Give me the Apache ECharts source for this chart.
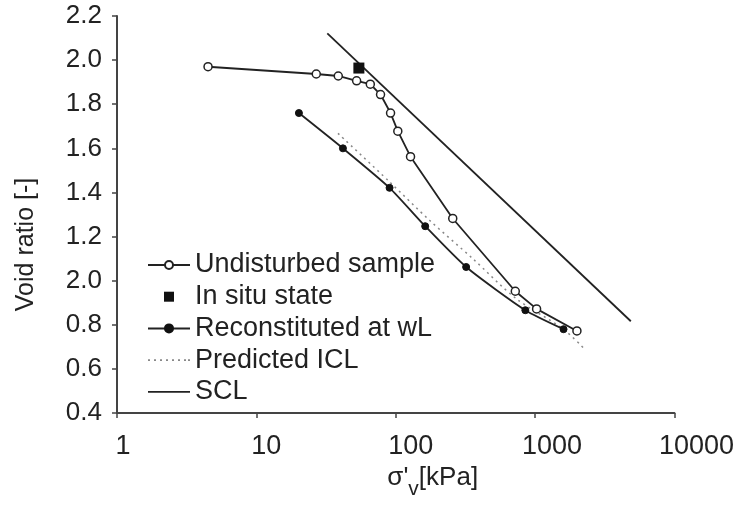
<!DOCTYPE html>
<html>
<head>
<meta charset="utf-8">
<script src="https://cdn.jsdelivr.net/npm/echarts@6/dist/echarts.min.js"></script>
<style>
  html, body { margin: 0; padding: 0; background: #fff; }
  #chart { width: 737px; height: 512px; }
</style>
</head>
<body>
<div id="chart"></div>
<script>
// [stress kPa, void ratio]
var undisturbed = [
  [4.5, 1.970], [26.9, 1.937], [38.7, 1.928], [52.4, 1.906], [65.7, 1.891],
  [77.8, 1.844], [91.8, 1.760], [103.5, 1.678], [127.7, 1.562], [256.5, 1.282],
  [721, 0.952], [1025, 0.872], [1996, 0.772]
];
var inSitu = [[54.4, 1.964]];
var reconstituted = [
  [20.2, 1.760], [41.8, 1.600], [90.3, 1.421], [162.7, 1.247],
  [320, 1.062], [851, 0.866], [1600, 0.780]
];
var predictedICL = [
  [38.5, 1.668], [90.3, 1.448], [174.6, 1.274], [356.6, 1.100],
  [730, 0.919], [1574, 0.783], [2250, 0.692]
];
var scl = [[32.3, 2.121], [4864, 0.816]];

// tick labels as printed (the 1.0 tick is labelled 2.0 in the original)
var yTickLabels = ["0.4", "0.6", "0.8", "2.0", "1.2", "1.4", "1.6", "1.8", "2.0", "2.2"];
var xTickLabels = ["1", "10", "100", "1000", "10000"];

var font = "Liberation Sans, Arial, Helvetica, sans-serif";
var ink = "#222";
var axisColor = "#444";

// legend icons drawn as paths so they keep their aspect
var squareIcon = "path://M0,0L10,0L10,10L0,10Z";
var solidIcon = "path://M0,0L42,0L42,1.8L0,1.8Z";
var dottedIcon = "path://M0,0h2v1.6h-2zM6,0h2v1.6h-2zM12,0h2v1.6h-2zM18,0h2v1.6h-2zM24,0h2v1.6h-2zM30,0h2v1.6h-2zM36,0h2v1.6h-2zM40,0h2v1.6h-2z";

var chart = echarts.init(document.getElementById("chart"));
chart.setOption({
  animation: false,
  backgroundColor: "#fff",
  grid: { left: 117, right: 62, top: 16, bottom: 99 },
  legend: {
    orient: "vertical",
    left: 142,
    top: 246,
    itemWidth: 42,
    itemHeight: 10,
    itemGap: 3.7,
    textStyle: { fontFamily: font, fontSize: 27, lineHeight: 28, color: ink },
    data: [
      { name: "Undisturbed sample" },
      { name: "In situ state", icon: squareIcon, itemStyle: { color: "#111", opacity: 1 } },
      { name: "Reconstituted at wL" },
      { name: "Predicted ICL", icon: dottedIcon },
      { name: "SCL", icon: solidIcon }
    ]
  },
  xAxis: {
    type: "log",
    logBase: 10,
    min: 1,
    max: 10000,
    name: "{m|σ}{m|'}{s|v}{m|[kPa]}",
    nameLocation: "middle",
    nameGap: 48,
    nameTextStyle: {
      padding: [0, 0, 0, 74],
      rich: {
        m: { fontFamily: font, fontSize: 26, color: ink, lineHeight: 30, verticalAlign: "top" },
        s: { fontFamily: font, fontSize: 21, color: ink, padding: [14, 0, 0, 0], verticalAlign: "top" }
      }
    },
    axisLine: { show: true, lineStyle: { color: axisColor, width: 2 } },
    axisTick: { show: true, inside: false, length: 5, lineStyle: { color: axisColor, width: 1.5 } },
    splitLine: { show: false },
    minorTick: { show: false },
    axisLabel: {
      margin: 20,
      color: ink,
      fontFamily: font,
      fontSize: 27,
      formatter: function (v) {
        var k = Math.round(Math.log(v) / Math.LN10);
        return "{o" + k + "|" + xTickLabels[k] + "}";
      },
      rich: {
        o0: { fontFamily: font, fontSize: 27, color: ink, padding: [0, 0, 0, 12] },
        o1: { fontFamily: font, fontSize: 27, color: ink, padding: [0, 0, 0, 20] },
        o2: { fontFamily: font, fontSize: 27, color: ink, padding: [0, 0, 0, 30] },
        o3: { fontFamily: font, fontSize: 27, color: ink, padding: [0, 0, 0, 34] },
        o4: { fontFamily: font, fontSize: 27, color: ink, padding: [0, 0, 0, 44] }
      }
    }
  },
  yAxis: {
    type: "value",
    min: 0.4,
    max: 2.2,
    interval: 0.2,
    name: "Void ratio [-]",
    nameLocation: "middle",
    nameGap: 78,
    nameTextStyle: { fontFamily: font, fontSize: 25, color: ink, padding: [0, 60, 0, 0] },
    axisLine: { show: true, lineStyle: { color: axisColor, width: 2 } },
    axisTick: { show: true, inside: false, length: 5, lineStyle: { color: axisColor, width: 1.5 } },
    splitLine: { show: false },
    axisLabel: {
      margin: 15,
      color: ink,
      fontFamily: font,
      fontSize: 26,
      padding: [12, 0, 0, 0],
      formatter: function (v) {
        return yTickLabels[Math.round((v - 0.4) / 0.2)];
      }
    }
  },
  series: [
    {
      name: "Undisturbed sample",
      type: "line",
      data: undisturbed,
      symbol: "circle",
      symbolSize: 8,
      itemStyle: { color: "#fff", borderColor: ink, borderWidth: 1.5 },
      lineStyle: { color: ink, width: 1.8 },
      z: 3
    },
    {
      name: "In situ state",
      type: "scatter",
      data: inSitu,
      symbol: "rect",
      symbolSize: 11,
      itemStyle: { color: "#111", opacity: 1 },
      z: 4
    },
    {
      name: "Reconstituted at wL",
      type: "line",
      data: reconstituted,
      smooth: 0.2,
      symbol: "circle",
      symbolSize: 7,
      itemStyle: { color: "#111", borderColor: "#111", borderWidth: 1 },
      lineStyle: { color: ink, width: 1.8 },
      z: 3
    },
    {
      name: "Predicted ICL",
      type: "line",
      data: predictedICL,
      smooth: 0.3,
      symbol: "none",
      itemStyle: { color: "#888" },
      lineStyle: { color: "#888", width: 1.5, type: [2, 4] },
      z: 2
    },
    {
      name: "SCL",
      type: "line",
      data: scl,
      symbol: "none",
      itemStyle: { color: ink },
      lineStyle: { color: ink, width: 1.8 },
      z: 2
    }
  ]
});
</script>
</body>
</html>
